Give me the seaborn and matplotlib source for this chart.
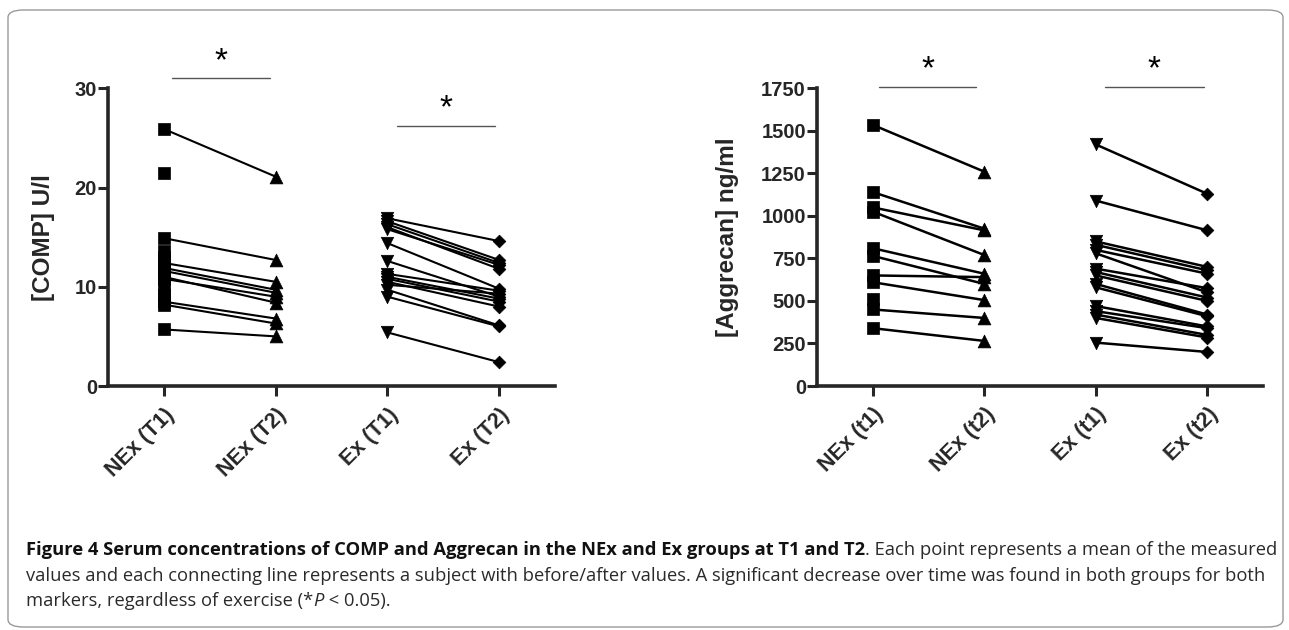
import numpy as np
import pandas as pd
import matplotlib
matplotlib.use("Agg")
import matplotlib.pyplot as plt
from matplotlib.patches import FancyBboxPatch
import seaborn as sns

nan = np.nan
# ---------------- data ----------------
comp_categories = ["NEx (T1)", "NEx (T2)", "Ex (T1)", "Ex (T2)"]
comp_nex_t1 = [25.9, 21.5, 14.9, 13.6, 13.0, 12.4, 11.9, 11.6, 11.0, 10.8, 9.8, 9.2, 8.5, 8.2, 5.7]
comp_nex_t2 = [21.1, nan, 12.7, nan, nan, 10.5, 9.7, 9.4, 8.4, 9.0, nan, nan, 6.8, 6.3, 5.0]
comp_ex_t1 = [16.9, 16.6, 16.3, 16.0, 15.8, 14.4, 12.6, 11.3, 11.0, 10.8, 10.5, 10.2, 9.7, 9.0, 5.4]
comp_ex_t2 = [14.6, 12.7, 12.4, 11.8, 12.2, 9.8, 9.0, 9.6, 8.8, 8.5, 8.0, 9.3, 6.1, 6.0, 2.4]
comp_yticks = [0, 10, 20, 30]

agg_categories = ["NEx (t1)", "NEx (t2)", "Ex (t1)", "Ex (t2)"]
agg_nex_t1 = [1535, 1140, 1050, 1025, 810, 765, 650, 610, 510, 450, 340]
agg_nex_t2 = [1260, 925, 915, 770, 660, 600, 640, 505, nan, 400, 265]
agg_ex_t1 = [1420, 1090, 850, 830, 800, 780, 690, 670, 650, 600, 580, 470, 440, 420, 400, 255]
agg_ex_t2 = [1130, 915, 700, 680, 660, 550, 575, 520, 500, 420, 410, 350, 340, 300, 285, 200]
agg_yticks = [0, 250, 500, 750, 1000, 1250, 1500, 1750]

caption_bold = "Figure 4 Serum concentrations of COMP and Aggrecan in the NEx and Ex groups at T1 and T2"
caption_1 = ". Each point represents a mean of the measured"
caption_2 = ("values and each connecting line represents a subject with before/after values. "
             "A significant decrease over time was found in both groups for both")
caption_3a = "markers, regardless of exercise (*"
caption_3b = "P"
caption_3c = " < 0.05)."


def build(nex_t1, nex_t2, ex_t1, ex_t2, cats):
    rows = []
    for i, (a, b) in enumerate(zip(nex_t1, nex_t2)):
        rows.append(("nex%d" % i, 0, a, cats[0]))
        if not np.isnan(b):
            rows.append(("nex%d" % i, 1, b, cats[1]))
    for i, (a, b) in enumerate(zip(ex_t1, ex_t2)):
        rows.append(("ex%d" % i, 2, a, cats[2]))
        if not np.isnan(b):
            rows.append(("ex%d" % i, 3, b, cats[3]))
    return pd.DataFrame(rows, columns=["subject", "pos", "value", "cond"])


sns.set_style("ticks")
plt.rcParams["font.family"] = ["Liberation Sans", "DejaVu Sans"]

W, H = 1289, 630
fig = plt.figure(figsize=(W / 100, H / 100), dpi=100)

# rounded frame
frame = FancyBboxPatch((8 / W, 3 / H), 1275 / W, 617 / H,
                       boxstyle="round,pad=0,rounding_size=0.012",
                       transform=fig.transFigure, fill=False,
                       edgecolor="#9a9a9a", linewidth=1.0)
fig.patches.append(frame)

ax1 = fig.add_axes([108 / W, 1 - 386 / H, 447 / W, (386 - 88.3) / H])
ax2 = fig.add_axes([817 / W, 1 - 386 / H, 446 / W, (386 - 88.3) / H])


def draw(ax, df, cats, yticks, ylim, ylabel, sig, labelpad, lw):
    markers = {cats[0]: "s", cats[1]: "^", cats[2]: "v", cats[3]: "D"}
    sizes = {cats[0]: 68, cats[1]: 85, cats[2]: 80, cats[3]: 42}
    sns.lineplot(data=df, x="pos", y="value", units="subject", estimator=None,
                 color="black", linewidth=lw, ax=ax, legend=False, sort=True)
    for c in cats:
        sub = df[df["cond"] == c]
        sns.scatterplot(data=sub, x="pos", y="value", marker=markers[c],
                        s=sizes[c], color="black", edgecolor="black",
                        linewidth=0.5, ax=ax, legend=False, zorder=3, clip_on=False)
    ax.set_xlim(-0.5, 3.5)
    ax.set_ylim(*ylim)
    ax.set_yticks(yticks)
    ax.set_yticklabels([str(t) for t in yticks], fontsize=14.5, fontweight="bold")
    ax.set_xticks(range(4))
    ax.set_xticklabels(cats, rotation=45, ha="right", va="top",
                       rotation_mode="anchor", fontsize=15.5, fontweight="bold")
    ax.set_xlabel("")
    ax.set_ylabel(ylabel, fontsize=17.5, fontweight="bold", labelpad=labelpad)
    sns.despine(ax=ax)
    for s in ("left", "bottom"):
        ax.spines[s].set_linewidth(2.6)
    ax.tick_params(axis="both", width=2.2, length=7, direction="out", pad=1)
    ax.tick_params(axis="x", pad=6)
    for (x0, x1, yb, ys) in sig:
        ax.plot([x0, x1], [yb, yb], color="#555555", linewidth=1.0, clip_on=False)
        ax.text((x0 + x1) / 2, ys, "*", ha="center", va="center",
                fontsize=24, color="black", clip_on=False)


df1 = build(comp_nex_t1, comp_nex_t2, comp_ex_t1, comp_ex_t2, comp_categories)
df2 = build(agg_nex_t1, agg_nex_t2, agg_ex_t1, agg_ex_t2, agg_categories)

draw(ax1, df1, comp_categories, comp_yticks, (0, 30), "[COMP] U/l",
     [(0.07, 0.95, 31.05, 32.7), (2.09, 2.96, 26.2, 27.9)], 14, 1.5)
draw(ax2, df2, agg_categories, agg_yticks, (0, 1750), "[Aggrecan] ng/ml",
     [(0.06, 0.93, 1758, 1860), (2.08, 2.97, 1758, 1860)], 16, 1.8)

# caption
cap_font = ["Open Sans", "DejaVu Sans"]
x0 = 26 / W
target_w = 1272 - 26
renderer = fig.canvas.get_renderer()

fs0 = 12.0
tb = fig.text(x0, 0.5, caption_bold, fontsize=fs0, fontweight="bold", family=cap_font)
tr = fig.text(x0, 0.5, caption_1, fontsize=fs0, family=cap_font)
w = tb.get_window_extent(renderer).width + tr.get_window_extent(renderer).width
tb.remove()
tr.remove()
fs = fs0 * target_w / w

tb = fig.text(x0, 1 - 550 / H, caption_bold, fontsize=fs, fontweight="bold",
              family=cap_font, va="center", ha="left", color="#111111")
fig.canvas.draw()
bb = tb.get_window_extent(renderer)
fig.text(bb.x1 / W, tb.get_position()[1], caption_1, fontsize=fs, family=cap_font,
         va="center", ha="left", color="#2a2a2a")
fig.text(x0, 1 - 576 / H, caption_2, fontsize=fs, family=cap_font,
         va="center", ha="left", color="#2a2a2a")
t3 = fig.text(x0, 1 - 601 / H, caption_3a, fontsize=fs, family=cap_font,
              va="center", ha="left", color="#2a2a2a")
fig.canvas.draw()
b3 = t3.get_window_extent(renderer)
t4 = fig.text(b3.x1 / W, 1 - 601 / H, caption_3b, fontsize=fs, family=cap_font,
              style="italic", va="center", ha="left", color="#2a2a2a")
fig.canvas.draw()
b4 = t4.get_window_extent(renderer)
fig.text(b4.x1 / W, 1 - 601 / H, caption_3c, fontsize=fs, family=cap_font,
         va="center", ha="left", color="#2a2a2a")

fig.savefig("out.png", dpi=100)
